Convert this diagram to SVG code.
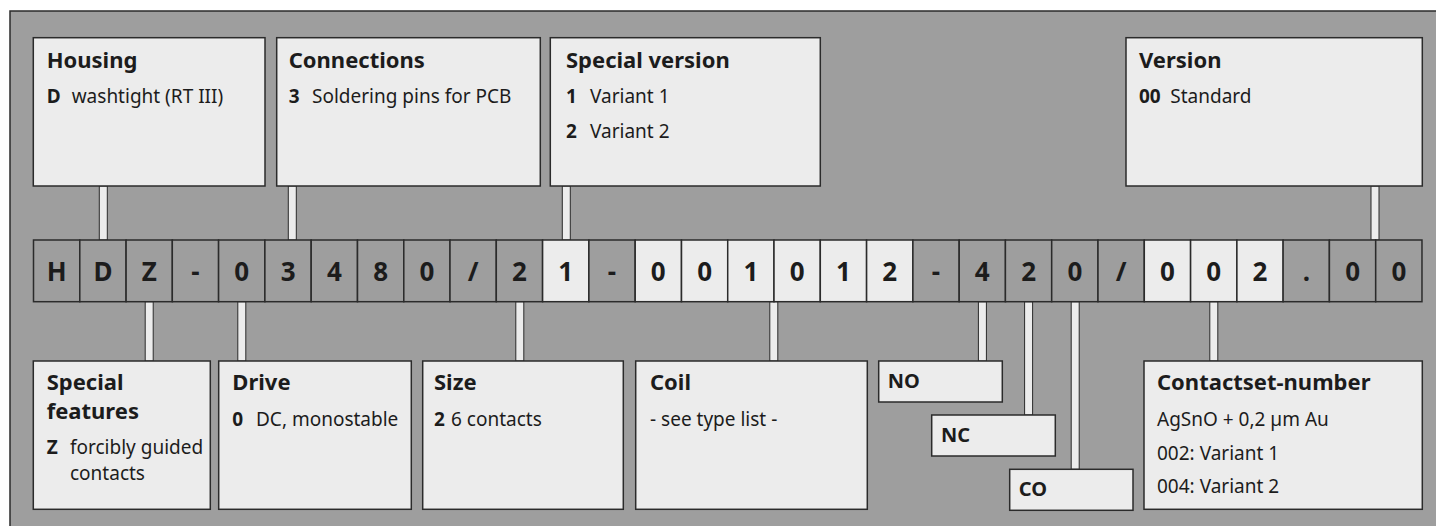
<svg xmlns="http://www.w3.org/2000/svg" width="1436" height="526" viewBox="0 0 1436 526">
<style>
text{font-family:"Noto Sans","Liberation Sans",sans-serif;fill:#1c1c1c}
.t{font-size:22px;font-weight:bold}
.b{font-size:19px}
.k{font-size:19px;font-weight:bold}
.s{font-size:20px;font-weight:bold}
.c{font-size:26px;font-weight:bold;text-anchor:middle}
.box{fill:#ececec;stroke:#2b2b2b;stroke-width:1.5}
.cd{fill:#9e9e9e;stroke:#2b2b2b;stroke-width:1.5}
.cl{fill:#ececec;stroke:#2b2b2b;stroke-width:1.5}
.con{fill:#ececec;stroke:#2b2b2b;stroke-width:1}
</style>
<rect x="10" y="11" width="1440" height="530" fill="#9e9e9e" stroke="#2b2b2b" stroke-width="1.5"/>
<g id="connectors">
<rect class="con" x="99.3" y="186" width="8" height="54"/>
<rect class="con" x="288.3" y="186" width="8" height="54"/>
<rect class="con" x="562.3" y="186" width="8" height="54"/>
<rect class="con" x="1371" y="186" width="8" height="54"/>
<rect class="con" x="145.2" y="301.7" width="8" height="59.3"/>
<rect class="con" x="237.8" y="301.7" width="8" height="59.3"/>
<rect class="con" x="515.8" y="301.7" width="8" height="59.3"/>
<rect class="con" x="769.8" y="301.7" width="8" height="59.3"/>
<rect class="con" x="978.4" y="301.7" width="8" height="59.3"/>
<rect class="con" x="1024.6" y="301.7" width="8" height="113.3"/>
<rect class="con" x="1071.2" y="301.7" width="8" height="167.6"/>
<rect class="con" x="1209.8" y="301.7" width="8" height="59.3"/>
</g>
<g id="code">
<rect class="cd" x="33.5" y="240" width="46.28" height="61.7"/><text class="c" x="56.6" y="280.7">H</text>
<rect class="cd" x="79.8" y="240" width="46.28" height="61.7"/><text class="c" x="102.9" y="280.7">D</text>
<rect class="cd" x="126.1" y="240" width="46.28" height="61.7"/><text class="c" x="149.2" y="280.7">Z</text>
<rect class="cd" x="172.3" y="240" width="46.28" height="61.7"/><text class="c" x="195.5" y="280.7">-</text>
<rect class="cd" x="218.6" y="240" width="46.28" height="61.7"/><text class="c" x="241.8" y="280.7">0</text>
<rect class="cd" x="264.9" y="240" width="46.28" height="61.7"/><text class="c" x="288.1" y="280.7">3</text>
<rect class="cd" x="311.2" y="240" width="46.28" height="61.7"/><text class="c" x="334.4" y="280.7">4</text>
<rect class="cd" x="357.5" y="240" width="46.28" height="61.7"/><text class="c" x="380.6" y="280.7">8</text>
<rect class="cd" x="403.8" y="240" width="46.28" height="61.7"/><text class="c" x="426.9" y="280.7">0</text>
<rect class="cd" x="450.0" y="240" width="46.28" height="61.7"/><text class="c" x="473.2" y="280.7">/</text>
<rect class="cd" x="496.3" y="240" width="46.28" height="61.7"/><text class="c" x="519.5" y="280.7">2</text>
<rect class="cl" x="542.6" y="240" width="46.28" height="61.7"/><text class="c" x="565.8" y="280.7">1</text>
<rect class="cd" x="588.9" y="240" width="46.28" height="61.7"/><text class="c" x="612.0" y="280.7">-</text>
<rect class="cl" x="635.2" y="240" width="46.28" height="61.7"/><text class="c" x="658.3" y="280.7">0</text>
<rect class="cl" x="681.5" y="240" width="46.28" height="61.7"/><text class="c" x="704.6" y="280.7">0</text>
<rect class="cl" x="727.7" y="240" width="46.28" height="61.7"/><text class="c" x="750.9" y="280.7">1</text>
<rect class="cl" x="774.0" y="240" width="46.28" height="61.7"/><text class="c" x="797.2" y="280.7">0</text>
<rect class="cl" x="820.3" y="240" width="46.28" height="61.7"/><text class="c" x="843.4" y="280.7">1</text>
<rect class="cl" x="866.6" y="240" width="46.28" height="61.7"/><text class="c" x="889.7" y="280.7">2</text>
<rect class="cd" x="912.9" y="240" width="46.28" height="61.7"/><text class="c" x="936.0" y="280.7">-</text>
<rect class="cd" x="959.2" y="240" width="46.28" height="61.7"/><text class="c" x="982.3" y="280.7">4</text>
<rect class="cd" x="1005.4" y="240" width="46.28" height="61.7"/><text class="c" x="1028.6" y="280.7">2</text>
<rect class="cd" x="1051.7" y="240" width="46.28" height="61.7"/><text class="c" x="1074.9" y="280.7">0</text>
<rect class="cd" x="1098.0" y="240" width="46.28" height="61.7"/><text class="c" x="1121.1" y="280.7">/</text>
<rect class="cl" x="1144.3" y="240" width="46.28" height="61.7"/><text class="c" x="1167.4" y="280.7">0</text>
<rect class="cl" x="1190.6" y="240" width="46.28" height="61.7"/><text class="c" x="1213.7" y="280.7">0</text>
<rect class="cl" x="1236.9" y="240" width="46.28" height="61.7"/><text class="c" x="1260.0" y="280.7">2</text>
<rect class="cd" x="1283.1" y="240" width="46.28" height="61.7"/><text class="c" x="1306.3" y="280.7">.</text>
<rect class="cd" x="1329.4" y="240" width="46.28" height="61.7"/><text class="c" x="1352.6" y="280.7">0</text>
<rect class="cd" x="1375.7" y="240" width="46.28" height="61.7"/><text class="c" x="1398.9" y="280.7">0</text>
</g>
<g id="housing">
<rect class="box" x="33.3" y="37.7" width="231.7" height="148.3"/>
<text class="t" x="46.7" y="68.3">Housing</text>
<text class="k" x="46.7" y="102.7">D</text><text class="b" x="71.7" y="102.7">washtight (RT III)</text>
</g>
<g id="connections">
<rect class="box" x="276.7" y="37.7" width="263.6" height="148.3"/>
<text class="t" x="288.7" y="68.3">Connections</text>
<text class="k" x="288.7" y="102.7">3</text><text class="b" x="312" y="102.7">Soldering pins for PCB</text>
</g>
<g id="special-version">
<rect class="box" x="550.3" y="37.7" width="270" height="148.3"/>
<text class="t" x="566" y="68.3">Special version</text>
<text class="k" x="566" y="102.7">1</text><text class="b" x="590" y="102.7">Variant 1</text>
<text class="k" x="566" y="137.7">2</text><text class="b" x="590" y="137.7">Variant 2</text>
</g>
<g id="version">
<rect class="box" x="1126" y="37.7" width="296.3" height="148.3"/>
<text class="t" x="1139" y="68.3">Version</text>
<text class="k" x="1139" y="102.7">00</text><text class="b" x="1170.3" y="102.7">Standard</text>
</g>
<g id="special-features">
<rect class="box" x="33.3" y="361" width="177" height="148.3"/>
<text class="t" x="46.7" y="390">Special</text>
<text class="t" x="46.7" y="419.3">features</text>
<text class="k" x="46.7" y="454">Z</text><text class="b" x="70" y="454">forcibly guided</text>
<text class="b" x="70" y="480">contacts</text>
</g>
<g id="drive">
<rect class="box" x="218.7" y="361" width="192.6" height="148.3"/>
<text class="t" x="232.3" y="390">Drive</text>
<text class="k" x="232.3" y="426">0</text><text class="b" x="256" y="426">DC, monostable</text>
</g>
<g id="size">
<rect class="box" x="422.7" y="361" width="200.6" height="148.3"/>
<text class="t" x="434" y="390">Size</text>
<text class="k" x="434" y="426">2</text><text class="b" x="451" y="426">6 contacts</text>
</g>
<g id="coil">
<rect class="box" x="635.7" y="361" width="231.6" height="148.3"/>
<text class="t" x="650" y="390">Coil</text>
<text class="b" x="650" y="426">- see type list -</text>
</g>
<g id="no">
<rect class="box" x="878.7" y="361" width="123.6" height="41"/>
<text class="s" x="887.7" y="388">NO</text>
</g>
<g id="nc">
<rect class="box" x="931.7" y="415" width="123.6" height="41"/>
<text class="s" x="941" y="442.3">NC</text>
</g>
<g id="co">
<rect class="box" x="1009.7" y="469.3" width="123.3" height="41"/>
<text class="s" x="1018.7" y="495.5">CO</text>
</g>
<g id="contactset-number">
<rect class="box" x="1144" y="361" width="278.3" height="148.3"/>
<text class="t" x="1157" y="390">Contactset-number</text>
<text class="b" x="1157" y="425.7">AgSnO + 0,2 µm Au</text>
<text class="b" x="1157" y="460">002: Variant 1</text>
<text class="b" x="1157" y="493.3">004: Variant 2</text>
</g>
</svg>
